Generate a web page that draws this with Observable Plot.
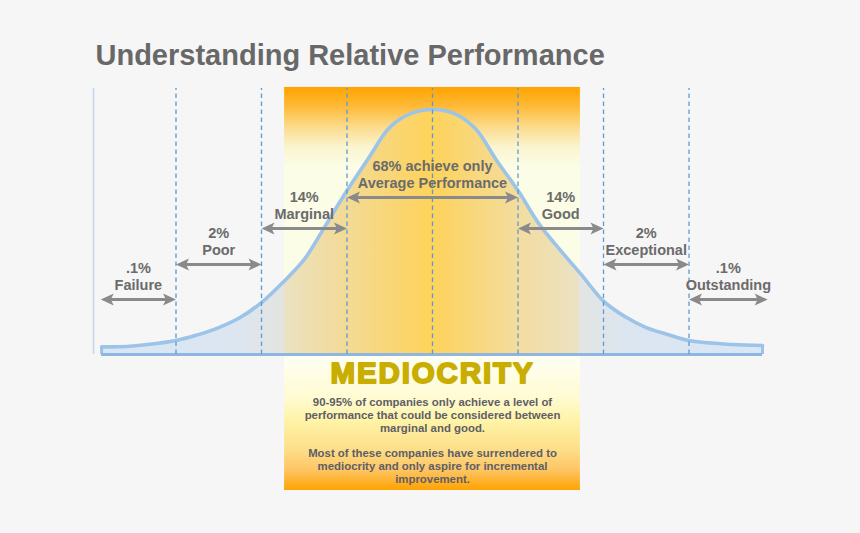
<!DOCTYPE html>
<html><head><meta charset="utf-8">
<script src="https://cdn.jsdelivr.net/npm/d3@7"></script>
<script src="https://cdn.jsdelivr.net/npm/@observablehq/plot@0.6"></script>
<style>
html,body{margin:0;padding:0;background:#f6f6f6;}
#chart{width:860px;height:533px;overflow:hidden;}
</style>
</head><body><div id="chart"></div>
<script>
// ---- data ----
const title = "Understanding Relative Performance";
const curveZ     = [-3.87,-3.5,-3,-2.75,-2.5,-2.25,-2,-1.75,-1.5,-1.25,-1,-0.75,-0.5,-0.25,0,0.25,0.5,0.75,1,1.25,1.5,1.75,2,2.25,2.5,2.75,3,3.5,3.86];
const curveValue = [3.1,3.5,5.7,8.0,11.0,15.1,21.2,29.4,38.8,52.7,66.9,80.0,92.7,98.4,100,98.4,92.2,79.2,66.9,53.1,42.4,32.2,21.8,15.5,11.0,8.2,5.7,4.1,3.7];
const sigmaLines = [-3,-2,-1,0,1,2,3];
const tierShare = [".1%","2%","14%","68% achieve only","14%","2%",".1%"];
const tierName  = ["Failure","Poor","Marginal","Average Performance","Good","Exceptional","Outstanding"];
const tierFrom  = [-3.88,-3,-2,-1,1,2,3];
const tierTo    = [-3,-2,-1,1,2,3,3.92];
const bandFrom = -1.73, bandTo = 1.73;
const bandHeadline = "MEDIOCRITY";
const bandLines = [
  "90-95% of companies only achieve a level of",
  "performance that could be considered between",
  "marginal and good.",
  "",
  "Most of these companies have surrendered to",
  "mediocrity and only aspire for incremental",
  "improvement."
];

// ---- layout (label placement) ----
const labelLevel = [22.4, 36.7, 51.4, 64.1, 51.4, 36.7, 22.4];

const curve = curveZ.map((z, i) => ({z, v: curveValue[i]}));
const tiers = tierName.map((name, i) => ({name, share: tierShare[i], from: tierFrom[i], to: tierTo[i], level: labelLevel[i]}));
const band = [{from: bandFrom, to: bandTo}];
const ends = [curve[0], curve[curve.length - 1]];

const gray = "#8a8a8a";
const textGray = "#6b6b6b";
const font = "'Liberation Sans', Arial, Helvetica, sans-serif";
const arrowHead = {draw(ctx) { ctx.moveTo(0, 0); ctx.lineTo(6, 13); ctx.lineTo(0, 10); ctx.lineTo(-6, 13); ctx.closePath(); }};

const svg = Plot.plot({
  width: 860, height: 533,
  margin: 0,
  x: {domain: [-4, 4], range: [90, 774], axis: null},
  y: {domain: [0, 100], range: [354, 109], axis: null},
  style: {background: "#f6f6f6", fontFamily: font, overflow: "visible"},
  marks: [
    Plot.rect(band, {x1: "from", x2: "to", y1: -55.5, y2: 109, fill: "url(#bandGrad)"}),
    Plot.ruleX([-3.965], {y1: 0, y2: 108.6, stroke: "#c2d6ee", strokeWidth: 1.5}),
    Plot.areaY(curve, {x: "z", y: "v", fill: "url(#curveGrad)", curve: "catmull-rom"}),
    Plot.ruleX(ends, {x: "z", y1: 0, y2: "v", stroke: "#9cc2e8", strokeWidth: 3}),
    Plot.line(curve, {x: "z", y: "v", stroke: "#9cc3e8", strokeWidth: 3.6, curve: "catmull-rom"}),
    Plot.ruleY([0], {x1: curve[0].z, x2: curve[curve.length - 1].z, stroke: "#8fb6e3", strokeWidth: 3}),
    Plot.ruleX(sigmaLines, {y1: 0, y2: 108.6, stroke: "#5b9bd5", strokeWidth: 1.3, strokeDasharray: "4.5,3.5"}),
    Plot.arrow(tiers, {x1: "from", x2: "to", y1: "level", y2: "level", headLength: 0, insetStart: 9, insetEnd: 9, stroke: gray, strokeWidth: 3}),
    Plot.dot(tiers, {x: "from", y: "level", symbol: arrowHead, rotate: -90, r: 5, fill: gray, stroke: "none"}),
    Plot.dot(tiers, {x: "to", y: "level", symbol: arrowHead, rotate: 90, r: 5, fill: gray, stroke: "none"}),
    Plot.text(tiers, {x: d => (d.from + d.to) / 2, y: "level", text: "share", dy: -31, fontSize: 14.5, fontWeight: "bold", fill: textGray}),
    Plot.text(tiers, {x: d => (d.from + d.to) / 2, y: "level", text: "name", dy: -14.5, fontSize: 14.5, fontWeight: "bold", fill: textGray}),
    Plot.text([bandHeadline], {x: (bandFrom + bandTo) / 2, y: -7.8, text: d => d, fontSize: 29.5, fontWeight: "bold", fill: "#c9ad00", stroke: "#c9ad00", strokeWidth: 1.8}),
    Plot.text([bandLines.join("\n")], {x: (bandFrom + bandTo) / 2, y: -35.1, text: d => d, fontSize: 11.4, lineHeight: 1.13, fontWeight: "bold", fill: "#5e5e66"}),
    Plot.text([title], {frameAnchor: "top-left", dx: 95, dy: 64, text: d => d, lineAnchor: "bottom", textAnchor: "start", fontSize: 29, fontWeight: "bold", fill: "#686868"})
  ]
});

const root = d3.select(svg);
const defs = root.insert("defs", ":first-child");
function grad(id, vertical, stops) {
  const g = defs.append("linearGradient").attr("id", id)
    .attr("x1", 0).attr("y1", 0).attr("x2", vertical ? 0 : 1).attr("y2", vertical ? 1 : 0);
  stops.forEach(([o, c]) => g.append("stop").attr("offset", o).attr("stop-color", c));
}
grad("bandGrad", true, [
  [0, "#ffa300"], [0.05, "#fdbb3a"], [0.1, "#fbdc8e"], [0.15, "#fbf5d0"], [0.2, "#fbfde6"],
  [0.66, "#fbfde8"], [0.67, "#fefff4"], [0.77, "#fffbd2"], [0.83, "#fef3a6"],
  [0.9, "#fdde88"], [0.95, "#fdc565"], [1, "#ffa300"]
]);
grad("curveGrad", false, [
  [0, "#d9e6f5"], [0.2, "#dce6f1"], [0.276, "#e2e4df"], [0.278, "#ebe2c2"], [0.37, "#f3da96"],
  [0.5, "#fed35a"], [0.63, "#f3dc9e"], [0.722, "#ebe2c4"], [0.724, "#e2e5e2"], [0.8, "#dce6f1"], [1, "#d9e6f5"]
]);
root.selectAll("text").filter(function() { return this.textContent === bandHeadline; })
  .attr("letter-spacing", "1.9px");

document.getElementById("chart").appendChild(svg);
</script>
</body></html>
